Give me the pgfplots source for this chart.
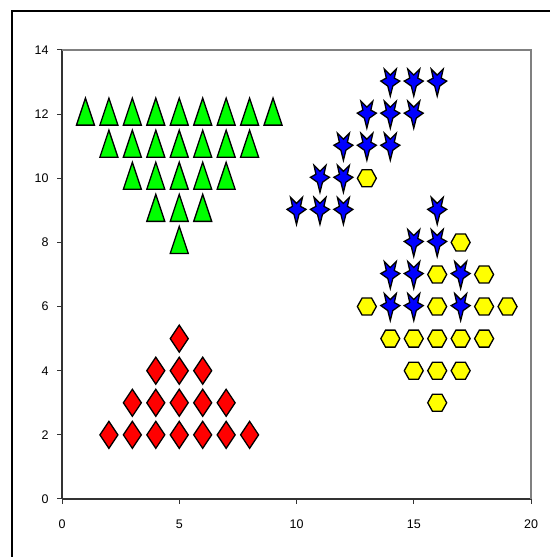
\documentclass[border=0pt]{standalone}
\usepackage{pgfplots}
\pgfplotsset{compat=1.18}
\usepackage{fontspec}
\setmainfont{Liberation Sans}
\definecolor{mgreen}{HTML}{00FF00}
\definecolor{mblue}{HTML}{0000FF}
\definecolor{myellow}{HTML}{FFFF00}
\definecolor{mred}{HTML}{FF0000}
\definecolor{axgray}{HTML}{808080}
\pgfdeclareplotmark{xtri}{%
  \pgfpathmoveto{\pgfpoint{0bp}{16bp}}%
  \pgfpathlineto{\pgfpoint{9bp}{-11bp}}%
  \pgfpathlineto{\pgfpoint{-9bp}{-11bp}}%
  \pgfpathclose\pgfusepathqfillstroke}
\pgfdeclareplotmark{xdia}{%
  \pgfpathmoveto{\pgfpoint{0bp}{13.5bp}}%
  \pgfpathlineto{\pgfpoint{9bp}{0bp}}%
  \pgfpathlineto{\pgfpoint{0bp}{-13.5bp}}%
  \pgfpathlineto{\pgfpoint{-9bp}{0bp}}%
  \pgfpathclose\pgfusepathqfillstroke}
\pgfdeclareplotmark{xhex}{%
  \pgfpathmoveto{\pgfpoint{9.5bp}{0bp}}%
  \pgfpathlineto{\pgfpoint{4.75bp}{8.5bp}}%
  \pgfpathlineto{\pgfpoint{-4.75bp}{8.5bp}}%
  \pgfpathlineto{\pgfpoint{-9.5bp}{0bp}}%
  \pgfpathlineto{\pgfpoint{-4.75bp}{-8.5bp}}%
  \pgfpathlineto{\pgfpoint{4.75bp}{-8.5bp}}%
  \pgfpathclose\pgfusepathqfillstroke}
\pgfdeclareplotmark{xstar}{%
  \pgfpathmoveto{\pgfpoint{0bp}{-14bp}}%
  \pgfpathlineto{\pgfpoint{2.5bp}{-4bp}}%
  \pgfpathlineto{\pgfpoint{9.5bp}{1bp}}%
  \pgfpathlineto{\pgfpoint{4bp}{4bp}}%
  \pgfpathlineto{\pgfpoint{6bp}{13bp}}%
  \pgfpathlineto{\pgfpoint{0bp}{7bp}}%
  \pgfpathlineto{\pgfpoint{-6bp}{13bp}}%
  \pgfpathlineto{\pgfpoint{-4bp}{4bp}}%
  \pgfpathlineto{\pgfpoint{-9.5bp}{1bp}}%
  \pgfpathlineto{\pgfpoint{-2.5bp}{-4bp}}%
  \pgfpathclose\pgfusepathqfillstroke}
\begin{document}
\begin{tikzpicture}
\useasboundingbox (0bp,0bp) rectangle (550bp,557bp);
\draw[line width=2bp,black] (12bp,-10bp) -- (12bp,545.5bp) -- (570bp,545.5bp);
\begin{axis}[
  at={(62bp,58bp)}, anchor=south west,
  scale only axis, width=469bp, height=449bp,
  xmin=0, xmax=20, ymin=0, ymax=14,
  xtick={0,5,10,15,20}, ytick={0,2,...,14},
  axis lines=left, axis line style={-, line width=1.3bp, black!80},
  tick align=outside, major tick length=5bp,
  tick style={line width=1bp, black!80},
  ticklabel style={font=\fontsize{12.5bp}{14bp}\selectfont},
  /pgf/number format/assume math mode=true,
  xticklabel style={yshift=-12bp},
  yticklabel style={xshift=-5bp},
  clip=false,
  only marks,
]
\draw[axgray, line width=1.5bp] (rel axis cs:0,1) -- (rel axis cs:1,1) -- (rel axis cs:1,0);
\addplot[mark=xtri, mark options={fill=mgreen, draw=black, line width=1.3bp}] coordinates {
(1,12)(2,12)(3,12)(4,12)(5,12)(6,12)(7,12)(8,12)(9,12)
(2,11)(3,11)(4,11)(5,11)(6,11)(7,11)(8,11)
(3,10)(4,10)(5,10)(6,10)(7,10)
(4,9)(5,9)(6,9)
(5,8)};
\addplot[mark=xdia, mark options={fill=mred, draw=black, line width=1.3bp}] coordinates {
(5,5)
(4,4)(5,4)(6,4)
(3,3)(4,3)(5,3)(6,3)(7,3)
(2,2)(3,2)(4,2)(5,2)(6,2)(7,2)(8,2)};
\addplot[mark=xhex, mark options={fill=myellow, draw=black, line width=1.3bp}] coordinates {
(13,10)
(17,8)
(16,7)(18,7)
(13,6)(16,6)(18,6)(19,6)
(14,5)(15,5)(16,5)(17,5)(18,5)
(15,4)(16,4)(17,4)
(16,3)};
\addplot[mark=xstar, mark options={fill=mblue, draw=black, line width=1.3bp}] coordinates {
(14,13)(15,13)(16,13)
(13,12)(14,12)(15,12)
(12,11)(13,11)(14,11)
(11,10)(12,10)
(10,9)(11,9)(12,9)(16,9)
(15,8)(16,8)
(14,7)(15,7)(17,7)
(14,6)(15,6)(17,6)};
\end{axis}
\end{tikzpicture}
\end{document}
